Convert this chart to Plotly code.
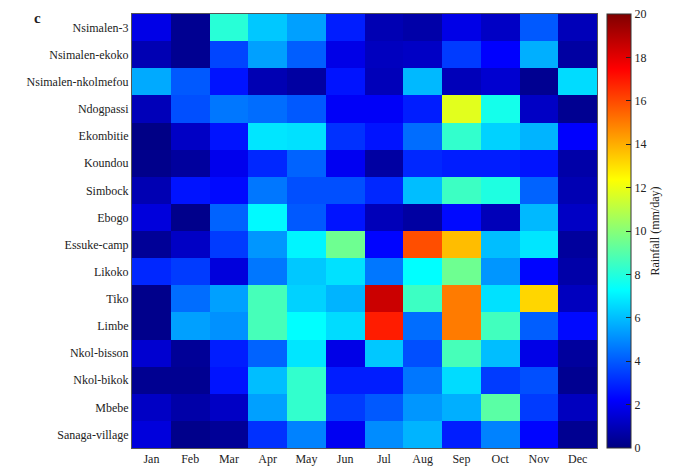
import plotly.graph_objects as go

months = ["Jan", "Feb", "Mar", "Apr", "May", "Jun", "Jul", "Aug", "Sep", "Oct", "Nov", "Dec"]
stations = ["Nsimalen-3", "Nsimalen-ekoko", "Nsimalen-nkolmefou", "Ndogpassi", "Ekombitie",
            "Koundou", "Simbock", "Ebogo", "Essuke-camp", "Likoko", "Tiko", "Limbe",
            "Nkol-bisson", "Nkol-bikok", "Mbebe", "Sanaga-village"]
cbar_ticks = [0, 2, 4, 6, 8, 10, 12, 14, 16, 18, 20]

# rainfall (mm/day), one row per station, Jan..Dec
nsimalen_3 = [1.8, 0.3, 8.1, 6.2, 5.4, 2.8, 0.9, 0.7, 1.8, 1.2, 4.0, 1.0]
nsimalen_ekoko = [0.9, 0.3, 3.6, 5.4, 4.1, 1.8, 1.1, 1.2, 3.4, 2.2, 5.7, 0.6]
nsimalen_nkolmefou = [5.6, 4.0, 2.6, 0.9, 0.6, 2.6, 1.0, 5.9, 1.0, 1.4, 0.3, 6.6]
ndogpassi = [1.0, 3.8, 4.6, 4.4, 4.0, 2.1, 2.1, 2.8, 11.8, 7.7, 1.2, 0.3]
ekombitie = [0.1, 1.2, 2.6, 6.8, 6.7, 3.2, 2.6, 4.4, 8.3, 6.4, 5.8, 2.2]
koundou = [0.2, 0.5, 1.9, 3.0, 4.2, 2.0, 0.6, 3.0, 2.8, 2.8, 2.6, 0.7]
simbock = [0.9, 2.6, 2.4, 4.6, 3.8, 3.8, 3.0, 6.0, 8.5, 7.9, 4.2, 0.9]
ebogo = [1.6, 0.2, 4.2, 7.2, 4.0, 2.6, 1.0, 0.6, 2.4, 1.0, 5.9, 1.2]
essuke_camp = [0.4, 1.2, 3.4, 5.2, 7.1, 9.5, 2.3, 15.9, 13.7, 6.0, 6.8, 0.5]
likoko = [3.0, 3.4, 1.6, 4.6, 6.2, 6.7, 4.6, 7.3, 9.5, 5.2, 2.3, 0.7]
tiko = [0.2, 4.4, 5.4, 8.7, 6.4, 5.8, 18.5, 8.5, 15.0, 6.7, 13.2, 1.1]
limbe = [0.2, 5.4, 5.1, 8.7, 7.3, 6.6, 16.9, 4.4, 15.0, 8.6, 4.1, 2.4]
nkol_bisson = [1.4, 0.4, 2.8, 4.2, 6.8, 1.8, 6.2, 3.8, 8.7, 6.0, 1.8, 0.5]
nkol_bikok = [0.3, 0.3, 2.6, 6.0, 8.3, 2.8, 2.8, 4.6, 6.6, 3.4, 3.8, 0.3]
mbebe = [1.2, 0.7, 1.2, 5.4, 8.3, 3.4, 4.0, 5.2, 5.7, 9.1, 3.4, 1.1]
sanaga_village = [1.6, 0.2, 0.4, 3.2, 4.8, 2.0, 5.0, 5.8, 2.8, 4.8, 2.3, 0.3]

rainfall = [nsimalen_3, nsimalen_ekoko, nsimalen_nkolmefou, ndogpassi, ekombitie,
            koundou, simbock, ebogo, essuke_camp, likoko, tiko, limbe,
            nkol_bisson, nkol_bikok, mbebe, sanaga_village]

# matlab-style jet
jet = [[0.0, "rgb(0,0,128)"], [0.111, "rgb(0,0,255)"], [0.365, "rgb(0,255,255)"],
       [0.619, "rgb(255,255,0)"], [0.873, "rgb(255,0,0)"], [1.0, "rgb(128,0,0)"]]

fig = go.Figure(go.Heatmap(
    z=rainfall, x=months, y=stations,
    colorscale=jet, zmin=0, zmax=20,
    colorbar=dict(
        x=1.0215, xanchor="left", xpad=0, thickness=24, len=1, y=0.5, yanchor="middle",
        ypad=0, outlinewidth=1, outlinecolor="#333",
        tickmode="array", tickvals=cbar_ticks, ticklabeloverflow="allow",
        ticks="inside", ticklen=5, tickcolor="#222",
        tickfont=dict(size=12),
        title=dict(text="Rainfall (mm/day)", side="right", font=dict(size=12)),
    ),
))

fig.update_xaxes(showline=True, mirror=True, linecolor="#555", linewidth=1, ticks="",
                 tickfont=dict(size=12))
fig.update_yaxes(autorange="reversed", showline=True, mirror=True, linecolor="#555",
                 linewidth=1, ticks="", tickfont=dict(size=12))

# panel letter
fig.add_annotation(text="<b>c</b>", x=-0.215, y=1.0, xref="paper", yref="paper",
                   xanchor="left", yanchor="top", yshift=6, showarrow=False,
                   font=dict(size=15))

# page offsets the svg by a few px, so margins compensate
fig.update_layout(
    width=685, height=471,
    margin=dict(l=124, r=96, t=6, b=31),
    font=dict(family="Liberation Serif", color="#222"),
    paper_bgcolor="white", plot_bgcolor="white",
)

fig.write_html("out.html")
